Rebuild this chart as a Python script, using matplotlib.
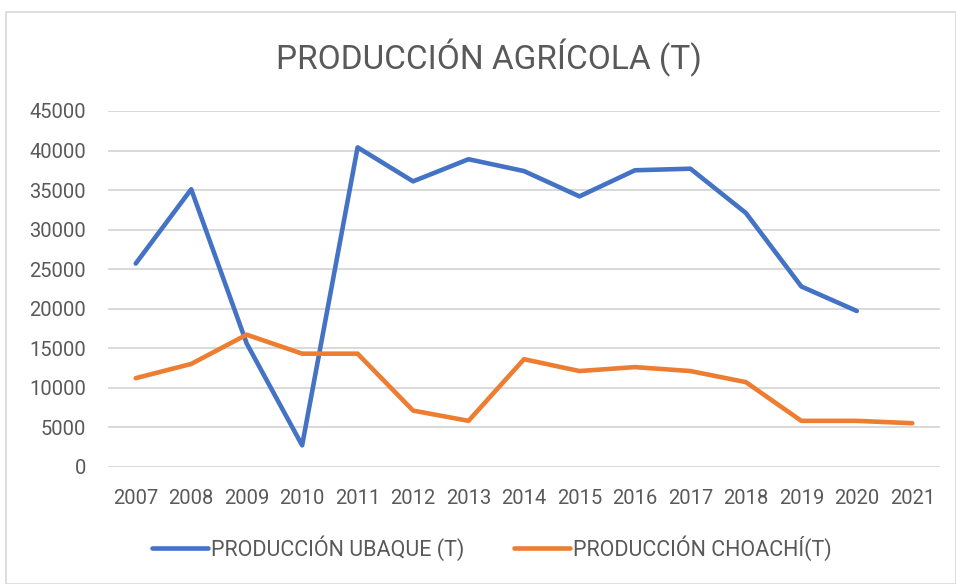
import matplotlib
matplotlib.use("Agg")
import matplotlib.pyplot as plt
from matplotlib.patches import Rectangle

years = [2007, 2008, 2009, 2010, 2011, 2012, 2013, 2014, 2015, 2016, 2017, 2018, 2019, 2020, 2021]
ubaque = [25700, 35100, 15600, 2700, 40400, 36100, 38900, 37400, 34200, 37500, 37700, 32100, 22800, 19700, None]
choachi = [11200, 13000, 16700, 14300, 14300, 7100, 5800, 13600, 12100, 12600, 12100, 10700, 5800, 5800, 5500]
yticks = [0, 5000, 10000, 15000, 20000, 25000, 30000, 35000, 40000, 45000]

title = "PRODUCCIÓN AGRÍCOLA (T)"
label_u = "PRODUCCIÓN UBAQUE (T)"
label_c = "PRODUCCIÓN CHOACHÍ(T)"

plt.rcParams['font.family'] = ['Roboto', 'DejaVu Sans']
txt = '#595959'

fig = plt.figure(figsize=(9.56, 5.84), dpi=100)
ax = fig.add_axes([108/956, 1-466.7/584, (940-108)/956, (466.7-111)/584])

x = list(range(len(years)))
u_x = [i for i, v in zip(x, ubaque) if v is not None]
u_y = [v for v in ubaque if v is not None]
ax.plot(u_x, u_y, color='#4472C4', lw=3.3, solid_capstyle='round', solid_joinstyle='round', label=label_u, zorder=3)
ax.plot(x, choachi, color='#ED7D31', lw=3.3, solid_capstyle='round', solid_joinstyle='round', label=label_c, zorder=3)

ax.set_xlim(-0.5, len(years) - 0.5)
ax.set_ylim(0, 45000)
ax.set_yticks(yticks)
ax.set_yticklabels([str(t) for t in yticks])
ax.set_xticks(x)
ax.set_xticklabels([str(y) for y in years])
ax.grid(axis='y', color='#D9D9D9', lw=1.4)
ax.set_axisbelow(True)
for s in ax.spines.values():
    s.set_visible(False)
ax.tick_params(axis='both', length=0, labelsize=14.5, colors=txt)
ax.tick_params(axis='y', pad=16)
ax.tick_params(axis='x', pad=16)

fig.text(489/956, 1-58/584, title, ha='center', va='center', fontsize=24, color=txt, fontweight='normal')

leg = fig.legend(loc='center', bbox_to_anchor=(492/956, 1-548/584), ncol=2, frameon=False,
                 fontsize=15.5, handlelength=2.6, handletextpad=0.15, columnspacing=2.3)
for t in leg.get_texts():
    t.set_color(txt)

fig.patches.append(Rectangle((6/956, 0), (956-6)/956, 1-12/584, transform=fig.transFigure,
                             fill=False, edgecolor='#D9D9D9', lw=1.2))

fig.savefig('out.png', dpi=100)
